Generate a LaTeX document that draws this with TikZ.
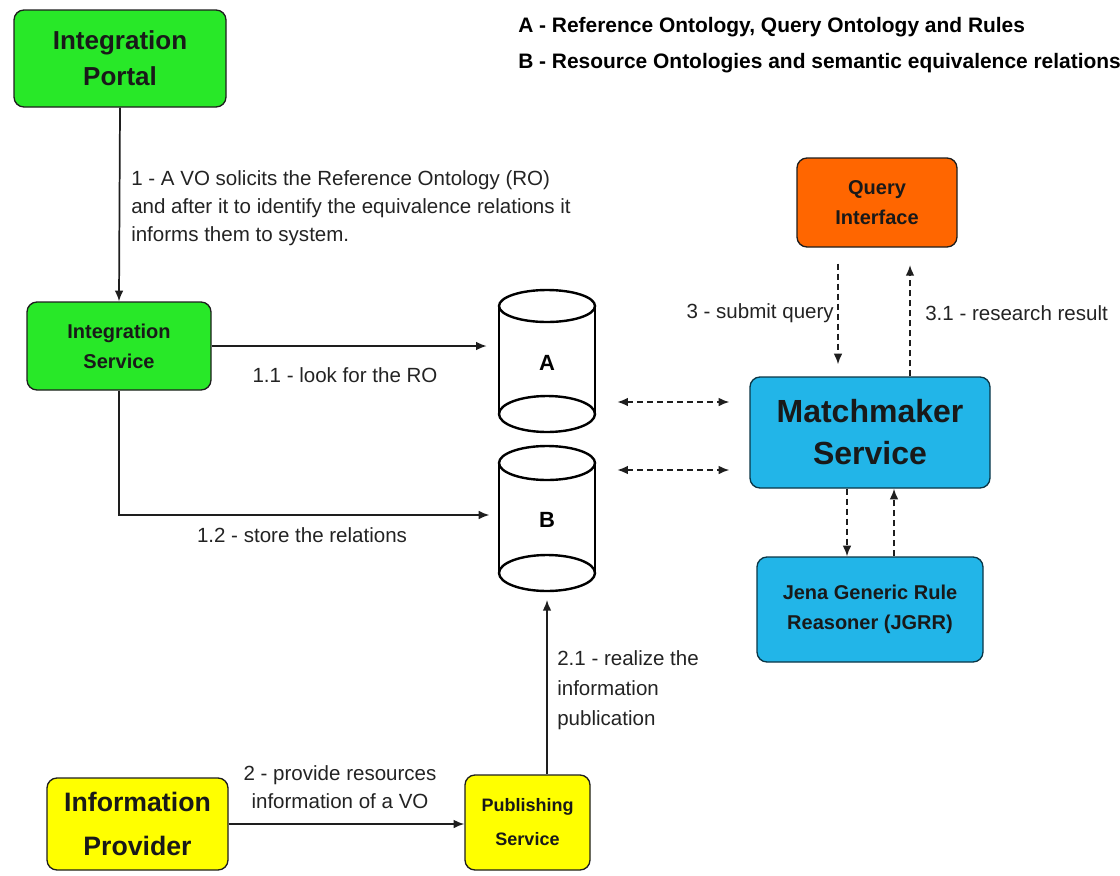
\documentclass[tikz,border=0pt]{standalone}
\usepackage{fontspec}
\setmainfont{Liberation Sans}
\usetikzlibrary{arrows.meta,calc}

\definecolor{portalgreen}{RGB}{40,232,40}
\definecolor{queryorange}{RGB}{255,102,0}
\definecolor{mmcyan}{RGB}{34,181,232}
\definecolor{provyellow}{RGB}{255,255,0}
\definecolor{edgegray}{RGB}{30,30,30}
\definecolor{labelgray}{RGB}{35,35,35}

\tikzset{
  box/.style={draw=edgegray, line width=1pt, rounded corners=7.5pt,
    inner sep=0pt, align=center, text=black!90, font=\bfseries},
  greenbox/.style={box, fill=portalgreen},
  orangebox/.style={box, fill=queryorange},
  cyanbox/.style={box, fill=mmcyan, draw=black!70!mmcyan},
  yellowbox/.style={box, fill=provyellow},
  cylnode/.style={inner sep=0pt, minimum width=72pt, font=\bfseries\fontsize{16.5}{20}\selectfont},
  cylline/.style={draw=black, line width=1.8pt},
  tip/.style={-{Latex[length=8pt,width=6.5pt]}},
  flow/.style={draw=edgegray, line width=1.3pt, tip},
  dflow/.style={flow, dash pattern=on 4.5pt off 3pt},
  dboth/.style={dflow, {Latex[length=8pt,width=6.5pt]}-{Latex[length=8pt,width=6.5pt]}},
  lbl/.style={inner sep=0pt, text=labelgray, font=\fontsize{15.4}{21}\selectfont},
  legend/.style={inner sep=0pt, anchor=west, text=black, font=\bfseries\fontsize{15.7}{19}\selectfont}
}

\begin{document}
\begin{tikzpicture}[x=0.75pt, y=-0.75pt]
\useasboundingbox (0,0) rectangle (1120,875);

% legend
\node[legend] (legA) at (518,27) {A - Reference Ontology, Query Ontology and Rules};
\node[legend] (legB) at (518,63) {B - Resource Ontologies and semantic equivalence relations};

% boxes
\node[greenbox, minimum width=159pt, minimum height=72.75pt,
      font=\bfseries\fontsize{19.5}{27}\selectfont] (portal) at (120,58.5) {Integration\\Portal};
\node[greenbox, minimum width=138pt, minimum height=66pt,
      font=\bfseries\fontsize{15}{22.5}\selectfont] (intserv) at (119,346) {Integration\\Service};
\node[orangebox, minimum width=120pt, minimum height=66.75pt,
      font=\bfseries\fontsize{15}{22.5}\selectfont] (query) at (877,202.5) {Query\\Interface};
\node[cyanbox, minimum width=180pt, minimum height=83.25pt,
      font=\bfseries\fontsize{24}{31.5}\selectfont] (mm) at (870,432.5) {Matchmaker\\Service};
\node[cyanbox, minimum width=169.5pt, minimum height=78.75pt,
      font=\bfseries\fontsize{15}{22.5}\selectfont] (jgrr) at (870,609.5) {Jena Generic Rule\\Reasoner (JGRR)};
\node[yellowbox, minimum width=93.75pt, minimum height=71.25pt,
      font=\bfseries\fontsize{13.5}{25.5}\selectfont] (pub) at (527.5,822.5) {Publishing\\Service};
\node[yellowbox, minimum width=135.75pt, minimum height=69pt,
      font=\bfseries\fontsize{20}{33}\selectfont] (prov) at (137.5,824) {Information\\Provider};

% cylinders A and B
\draw[cylline] (547,306) ellipse [x radius=36pt, y radius=12pt];
\draw[cylline] (547,414) ellipse [x radius=36pt, y radius=13.5pt];
\draw[cylline] (499,306) -- (499,414) (595,306) -- (595,414);
\node[cylnode, minimum height=106.5pt] (A) at (547,363) {A};

\draw[cylline] (547,463) ellipse [x radius=36pt, y radius=12.75pt];
\draw[cylline] (547,573) ellipse [x radius=36pt, y radius=13.5pt];
\draw[cylline] (499,463) -- (499,573) (595,463) -- (595,573);
\node[cylnode, minimum height=109.5pt] (B) at (547,520) {B};

% helper rows and columns for the dashed links
\coordinate (rowA) at (0,402);
\coordinate (rowB) at (0,470);
\coordinate (rowS) at (0,515);
\coordinate (qdown) at (838,0);
\coordinate (qup) at (910,0);
\coordinate (jdown) at (847,0);
\coordinate (jup) at (894,0);

% solid flows
\draw[flow] (portal.south) -- (intserv.north);
\draw[flow, shorten >=9pt] (intserv.east) -- (intserv.east -| A.west);
\draw[flow, shorten >=7pt] (intserv.south) |- (B.west |- rowS);
\draw[flow] (prov.east) -- (prov.east -| pub.west);
\draw[flow, shorten >=5pt] (pub.north -| B.south) -- (B.south);

% dashed flows
\draw[dboth, shorten <=16.5pt, shorten >=15pt] (A.east |- rowA) -- (mm.west |- rowA);
\draw[dboth, shorten <=16.5pt, shorten >=15pt] (B.east |- rowB) -- (mm.west |- rowB);
\draw[dflow, shorten <=12pt, shorten >=9pt] (query.south -| qdown) -- (mm.north -| qdown);
\draw[dflow, shorten >=13pt] (mm.north -| qup) -- (query.south -| qup);
\draw[dflow] (mm.south -| jdown) -- (jgrr.north -| jdown);
\draw[dflow] (jgrr.north -| jup) -- (mm.south -| jup);

% flow labels
\node[lbl, anchor=north west, align=left] (l1) at (131,170)
  {1 - A VO solicits the Reference Ontology (RO)\\and after it to identify the equivalence relations it\\informs them to system.};
\node[lbl] (l11) at (345,375) {1.1 - look for the RO};
\node[lbl] (l12) at (302,535) {1.2 - store the relations};
\node[lbl, anchor=east] (l3) at (834,313) {3 - submit query};
\node[lbl, anchor=west] (l31) at (925,313) {3.1 - research result};
\node[lbl, anchor=north west, align=left, font=\fontsize{15.4}{22.5}\selectfont] (l21) at (557,650)
  {2.1 - realize the\\information\\publication};
\node[lbl, align=center, font=\fontsize{15.4}{20.5}\selectfont] (l2) at (340,787)
  {2 - provide resources\\information of a VO};
\end{tikzpicture}
\end{document}
